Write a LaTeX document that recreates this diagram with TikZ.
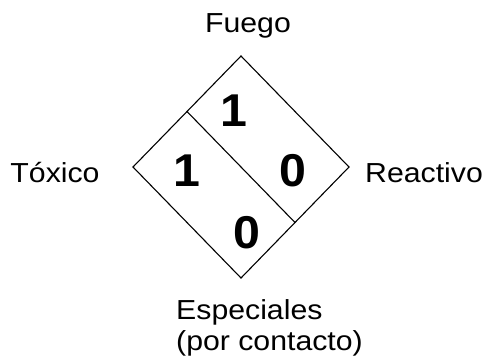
\documentclass[tikz,border=0pt]{standalone}
\usepackage{fontspec}
\usetikzlibrary{calc}
\setmainfont{Liberation Sans}
\newfontfamily\labfont[FakeStretch=1.1]{Liberation Sans}
\newfontfamily\numfont[FakeStretch=1.05]{Liberation Sans}
\tikzset{
  lab/.style={font=\labfont\fontsize{27.5}{31}\selectfont, inner sep=0pt, anchor=base},
  num/.style={font=\numfont\bfseries\fontsize{46}{50}\selectfont, inner sep=0pt, anchor=base},
  edge/.style={draw=black, line width=1.1pt, line join=miter}
}
\begin{document}
\begin{tikzpicture}[x=1pt,y=-1pt]
\useasboundingbox (0,0) rectangle (486,362);
\coordinate (T) at (241,56);
\coordinate (L) at (133,167);
\coordinate (R) at (349,167);
\coordinate (B) at (241,278);
\coordinate (M1) at ($(T)!0.5!(L)$);
\coordinate (M2) at ($(R)!0.5!(B)$);
\draw[edge] (T) -- (R) -- (B) -- (L) -- cycle;
\draw[edge] (M1) -- (M2);
\node[num] (n1) at (234,126) {1};
\node[num] (n2) at (187,186.7) {1};
\node[num] (n3) at (293,186.7) {0};
\node[num] (n4) at (247,248.3) {0};
\node[lab] (fuego) at (248,32.3) {Fuego};
\node[lab] (toxico) at (55,182.3) {Tóxico};
\node[lab] (reactivo) at (424,182.3) {Reactivo};
\node[lab, anchor=base west] (esp1) at (176,319.3) {Especiales};
\node[lab, anchor=base west] (esp2) at (176,350) {(por contacto)};
\end{tikzpicture}
\end{document}
